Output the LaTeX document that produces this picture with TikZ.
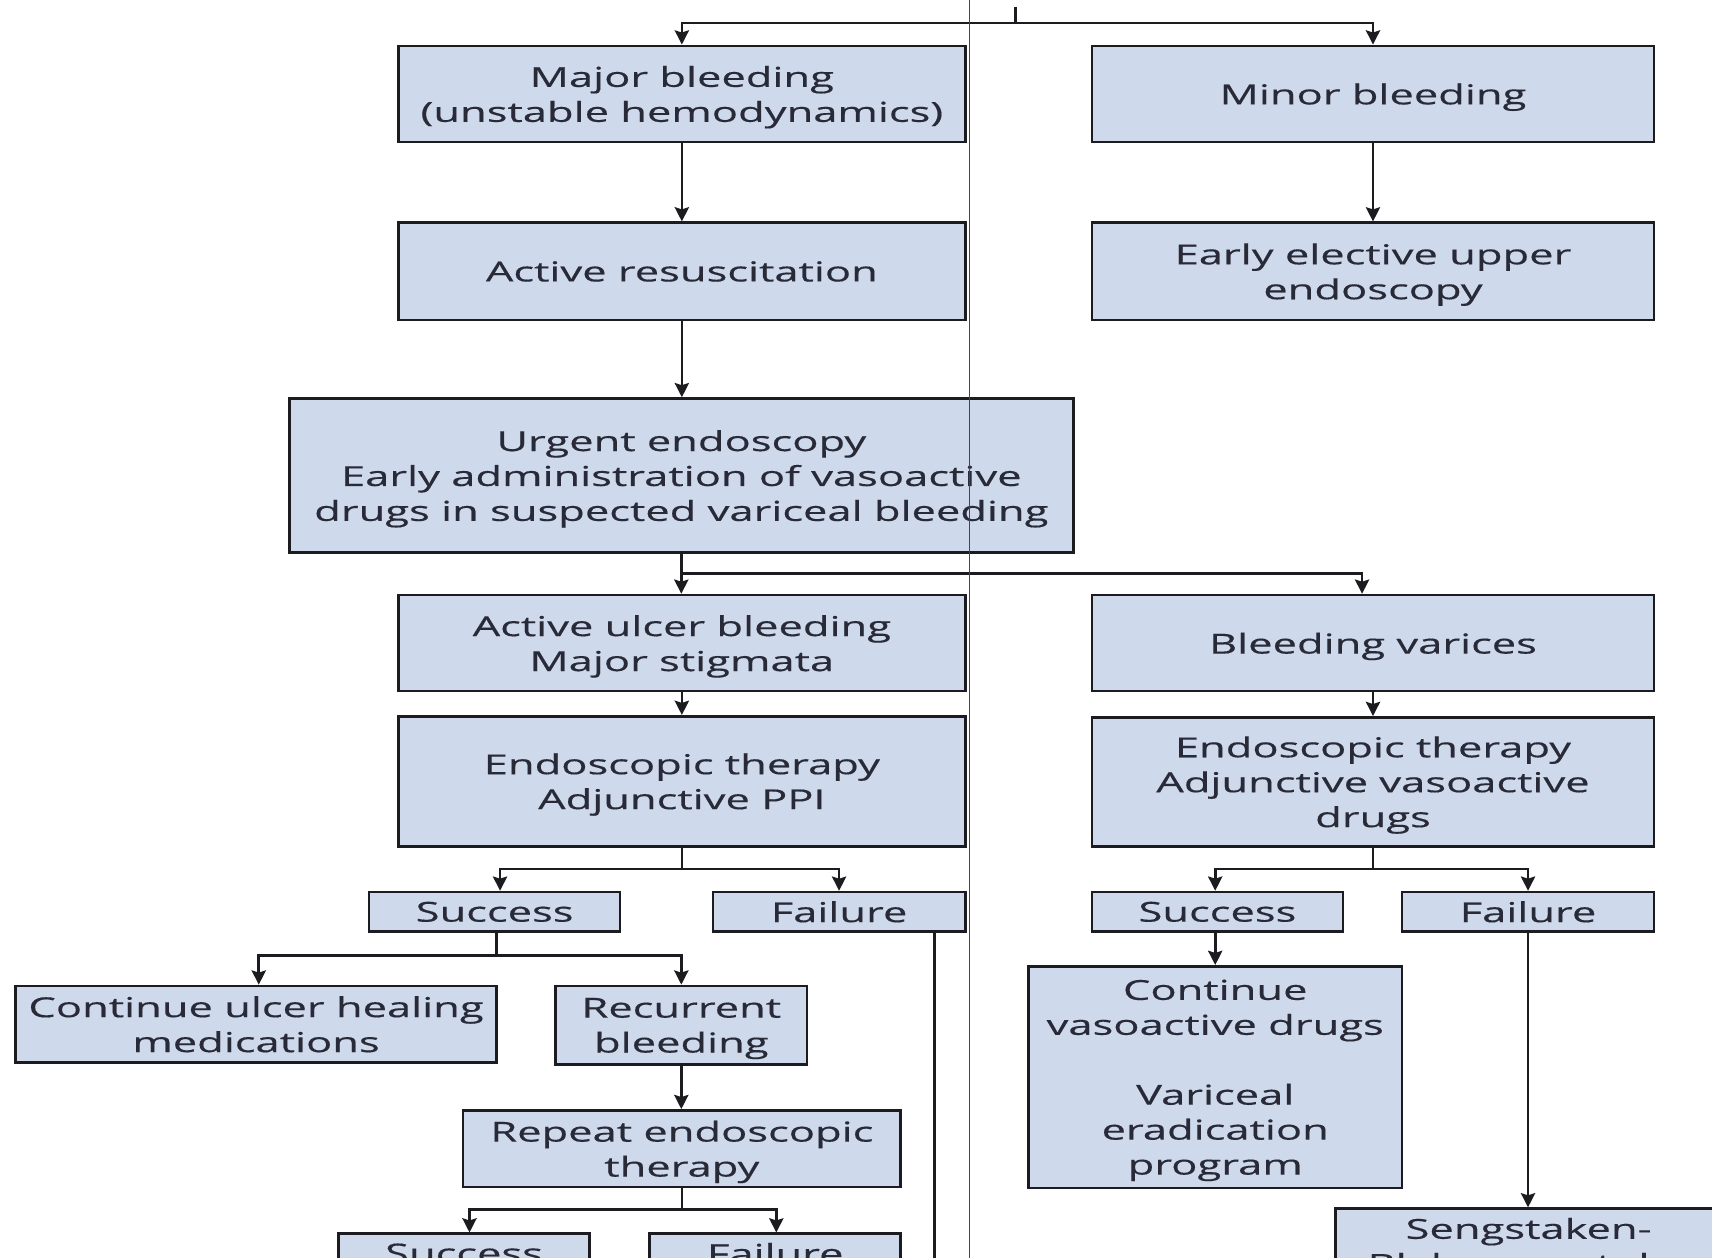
\documentclass[tikz,border=0pt]{standalone}
\usepackage{fontspec}
\setmainfont{Open Sans}[FakeStretch=1.58,FakeBold=0.4]
\usetikzlibrary{arrows.meta,calc}

\definecolor{boxfill}{RGB}{207,217,236}
\definecolor{inkline}{RGB}{28,28,32}
\definecolor{inktext}{RGB}{40,42,55}
\definecolor{guide}{RGB}{112,40,110}

% box given by its corners (x1,y1)-(x2,y2) in picture units
\newcommand{\flowbox}[6]{%
  \pgfmathsetmacro{\fbw}{(#4-#2)*0.5}%
  \pgfmathsetmacro{\fbh}{(#5-#3)*0.5}%
  \pgfmathsetmacro{\fbx}{(#2+#4)/2}%
  \pgfmathsetmacro{\fby}{(#3+#5)/2}%
  \node[flow, minimum width=\fbw pt, minimum height=\fbh pt] (#1) at (\fbx,\fby) {#6};}

\tikzset{
  flow/.style={draw=inkline, line width=1.2pt, fill=boxfill, inner sep=0pt,
    align=center, text=inktext, font=\fontsize{12.6}{16}\selectfont,
    text depth=0pt},
  link/.style={draw=inkline, line width=1.2pt},
  arr/.style={link, -{Stealth[length=6.5pt,width=6.5pt,inset=1pt]}},
  guideline/.style={draw=guide, line width=0.5pt}
}

\begin{document}
\begin{tikzpicture}[x=0.5pt, y=-0.5pt]
\useasboundingbox (0,0) rectangle (1568,1152);
\clip (0,0) rectangle (1568,1152);
\fill[white] (0,0) rectangle (1568,1152);

% rows of boxes
\flowbox{major}{365}{42}{884}{130}{Major bleeding\\(unstable hemodynamics)}
\flowbox{minor}{1000}{42}{1515}{130}{Minor bleeding}
\flowbox{resus}{365}{204}{884}{293}{Active resuscitation}
\flowbox{elective}{1000}{204}{1515}{293}{Early elective upper\\endoscopy}
\flowbox{urgent}{265}{365}{983}{506}{Urgent endoscopy\\Early administration of vasoactive\\drugs in suspected variceal bleeding}
\flowbox{ulcer}{365}{545}{884}{633}{Active ulcer bleeding\\Major stigmata}
\flowbox{varices}{1000}{545}{1515}{633}{Bleeding varices}
\flowbox{endoL}{365}{656}{884}{775}{Endoscopic therapy\\Adjunctive PPI}
\flowbox{endoR}{1000}{657}{1515}{775}{Endoscopic therapy\\Adjunctive vasoactive\\drugs}
\flowbox{succL}{338}{817}{568}{853}{Success}
\flowbox{failL}{653}{817}{884}{853}{Failure}
\flowbox{succR}{1000}{817}{1230}{853}{Success}
\flowbox{failR}{1284}{817}{1515}{853}{Failure}
\flowbox{contUlcer}{14}{903}{455}{973}{Continue ulcer healing\\medications}
\flowbox{recur}{509}{903}{739}{975}{Recurrent\\bleeding}
\flowbox{contVaso}{942}{885}{1284}{1088}{Continue\\vasoactive drugs\\[16pt]Variceal\\eradication\\program}
\flowbox{repeat}{424}{1017}{825}{1087}{Repeat endoscopic\\therapy}
\flowbox{succB}{310}{1130}{540}{1166}{Success}
\flowbox{failB}{595}{1130}{825}{1166}{Failure}
\flowbox{seng}{1223}{1107}{1577}{1175}{Sengstaken-\\Blakemore tube}

% levels of the horizontal splits
\coordinate (lvl0) at (0,21);
\coordinate (lvl1) at (0,525);
\coordinate (lvl2) at (0,796);
\coordinate (lvl3) at (0,875);
\coordinate (lvl4) at (0,1108);
\coordinate (stub) at (930,6);
\coordinate (split0) at (930,21);
\coordinate (failLexit) at (856,1200);

% top split
\draw[link] (stub) -- (split0);
\draw[arr] (split0) -| (major.north);
\draw[arr] (split0) -| (minor.north);

% main columns
\draw[arr] (major.south) -- (major.south |- resus.north);
\draw[arr] (minor.south) -- (minor.south |- elective.north);
\draw[arr] (resus.south) -- (resus.south |- urgent.north);

% after urgent endoscopy
\draw[arr] (urgent.south) -- (urgent.south |- ulcer.north);
\draw[arr] (urgent.south |- lvl1) -| ($(varices.north)+(-10,0)$);
\draw[arr] (ulcer.south) -- (ulcer.south |- endoL.north);
\draw[arr] (varices.south) -- (varices.south |- endoR.north);

% outcome of endoscopic therapy, ulcer side
\draw[link] (endoL.south) -- (endoL.south |- lvl2);
\draw[arr] (endoL.south |- lvl2) -| ($(succL.north)+(5,0)$);
\draw[arr] (endoL.south |- lvl2) -| (failL.north);

% outcome of endoscopic therapy, variceal side
\draw[link] (endoR.south) -- (endoR.south |- lvl2);
\draw[arr] (endoR.south |- lvl2) -| ($(succR.north)+(-2,0)$);
\draw[arr] (endoR.south |- lvl2) -| (failR.north);
\draw[arr] ($(succR.south)+(-2,0)$) -- ($(succR.south |- contVaso.north)+(-2,0)$);
\draw[arr] (failR.south) -- (failR.south |- seng.north);
\draw[link] (failL.south -| failLexit) -- (failLexit);

% after successful ulcer therapy
\draw[link] ($(succL.south)+(2,0)$) -- ($(succL.south |- lvl3)+(2,0)$);
\draw[arr] ($(succL.south |- lvl3)+(2,0)$) -| ($(contUlcer.north)+(2.5,0)$);
\draw[arr] ($(succL.south |- lvl3)+(2,0)$) -| (recur.north);
\draw[arr] (recur.south) -- (recur.south |- repeat.north);

% outcome of repeat therapy
\draw[link] (repeat.south) -- (repeat.south |- lvl4);
\draw[arr] (repeat.south |- lvl4) -| ($(succB.north)+(5,0)$);
\draw[arr] (repeat.south |- lvl4) -| ($(failB.north)+(1,0)$);

% thin vertical rule across the page
\draw[guideline] (888,0) -- (888,1152);
\end{tikzpicture}
\end{document}
